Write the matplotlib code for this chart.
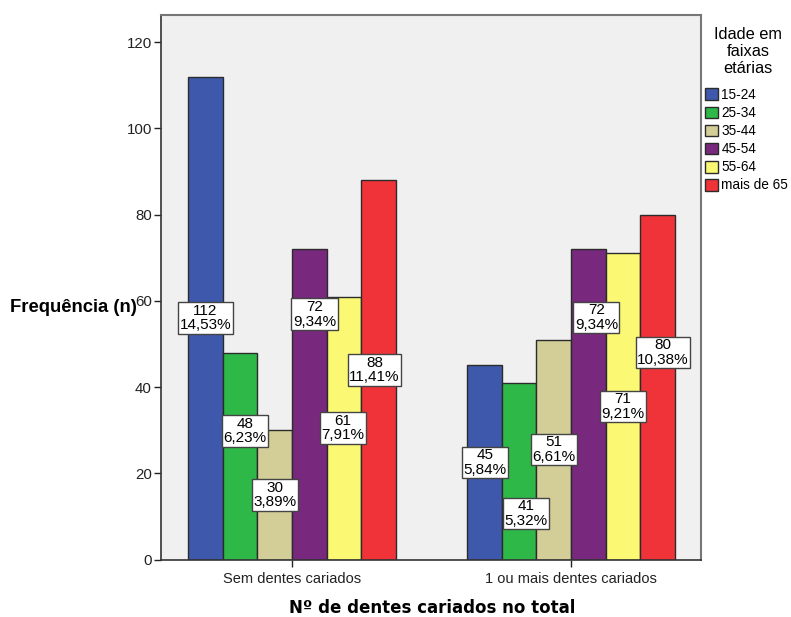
import matplotlib
matplotlib.use("Agg")
import matplotlib.pyplot as plt
from matplotlib.patches import Patch
import numpy as np

# ---- data ----
categories = ["Sem dentes cariados", "1 ou mais dentes cariados"]
age_groups = ["15-24", "25-34", "35-44", "45-54", "55-64", "mais de 65"]
counts_15_24 = [112, 45]
counts_25_34 = [48, 41]
counts_35_44 = [30, 51]
counts_45_54 = [72, 72]
counts_55_64 = [61, 71]
counts_65_plus = [88, 80]
pct_15_24 = [14.53, 5.84]
pct_25_34 = [6.23, 5.32]
pct_35_44 = [3.89, 6.61]
pct_45_54 = [9.34, 9.34]
pct_55_64 = [7.91, 9.21]
pct_65_plus = [11.41, 10.38]
y_ticks = [0, 20, 40, 60, 80, 100, 120]

# ---- style / layout ----
colors = ["#3E58AC", "#2EB848", "#D3CE97", "#78287D", "#FBF873", "#EF3338"]
# label vertical placement (fraction of bar value) and small horizontal nudges (bar widths)
label_frac = [[0.50, 0.50], [0.62, 0.26], [0.50, 0.50], [0.79, 0.78], [0.50, 0.50], [0.50, 0.60]]
label_dx = [[0.0, 0.03], [0.15, 0.2], [0.0, 0.0], [0.15, 0.23], [-0.03, 0.0], [-0.12, 0.15]]

counts = [counts_15_24, counts_25_34, counts_35_44, counts_45_54, counts_55_64, counts_65_plus]
pcts = [pct_15_24, pct_25_34, pct_35_44, pct_45_54, pct_55_64, pct_65_plus]

FONT = "Liberation Sans"
W, H = 791, 617
fig = plt.figure(figsize=(W / 100, H / 100), dpi=100)
fig.patch.set_facecolor("white")
ax = fig.add_axes([161 / W, 1 - 559.5 / H, 540 / W, 544.5 / H])
ax.set_facecolor("#F0F0F0")

x = np.arange(len(categories))
bw = 0.1244
n = len(age_groups)
for i in range(n):
    xs = x + (i - (n - 1) / 2) * bw
    ax.bar(xs, counts[i], width=bw, color=colors[i], edgecolor="#2b2b2b",
           linewidth=1.0, zorder=2)
    for j in range(len(categories)):
        v = counts[i][j]
        txt = f"{v}\n" + f"{pcts[i][j]:.2f}".replace(".", ",") + "%"
        ax.text(xs[j] + label_dx[i][j] * bw, v * label_frac[i][j], txt,
                ha="center", va="center", fontsize=11, family=FONT,
                linespacing=1.05, zorder=4,
                bbox=dict(boxstyle="square,pad=0.1", facecolor="white",
                          edgecolor="#444444", linewidth=1.0))

ax.set_xlim(-0.4695, 1.466)
ax.set_ylim(0, 126.3)
ax.set_yticks(y_ticks)
ax.set_yticklabels([str(t) for t in y_ticks], family=FONT, fontsize=10.8)
ax.set_xticks(x)
ax.set_xticklabels(categories, family=FONT, fontsize=10.5)
ax.tick_params(axis="both", direction="out", length=5, width=1.0, color="#222222",
               labelcolor="#222222")
ax.tick_params(axis="y", pad=1.5)
ax.tick_params(axis="x", pad=4)

for s in ["left", "bottom"]:
    ax.spines[s].set_color("#333333")
    ax.spines[s].set_linewidth(1.2)
for s in ["top", "right"]:
    ax.spines[s].set_color("#777777")
    ax.spines[s].set_linewidth(1.5)

fig.text(10 / W, 1 - 307 / H, "Frequência (n)", ha="left", va="center",
         fontsize=13.3, fontweight="bold", family=FONT)
fig.text(432 / W, 1 - 608 / H, "Nº de dentes cariados no total", ha="center",
         va="center", fontsize=12, fontweight="bold", family="DejaVu Sans")

fig.text(748 / W, 1 - 51.5 / H, "Idade em\nfaixas\netárias", ha="center",
         va="center", fontsize=11.8, family=FONT, linespacing=1.15)

handles = [Patch(facecolor=c, edgecolor="#2b2b2b", linewidth=1.0) for c in colors]
fig.legend(handles, age_groups, loc="upper left", bbox_to_anchor=(705 / W, 1 - 88 / H),
           frameon=False, borderpad=0, borderaxespad=0, handlelength=0.95,
           handleheight=0.95, handletextpad=0.25, labelspacing=0.3,
           prop=dict(family=FONT, size=9.8))

fig.savefig("out.png", dpi=100)
